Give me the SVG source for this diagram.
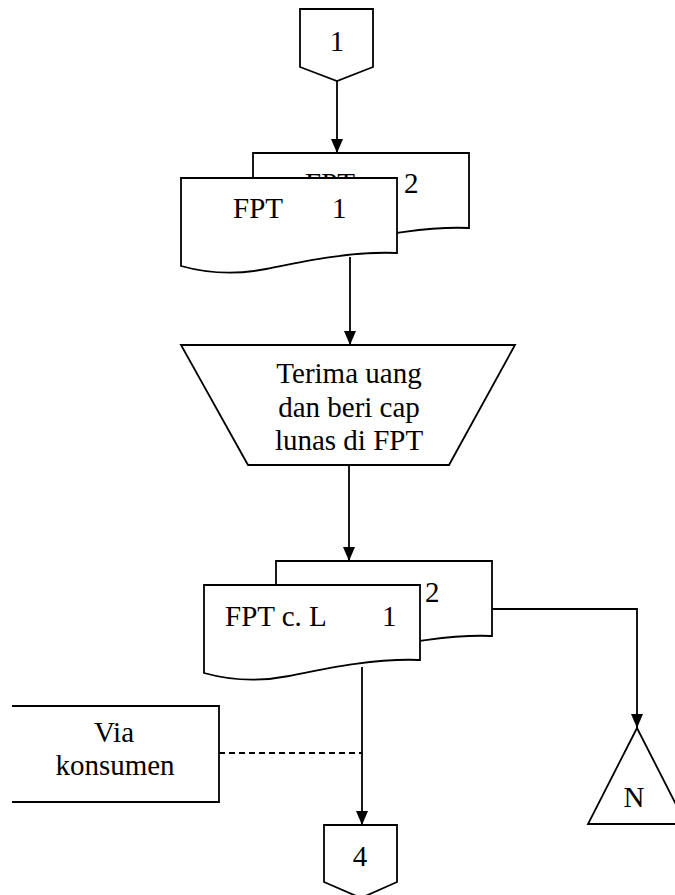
<svg xmlns="http://www.w3.org/2000/svg" width="675" height="895" viewBox="0 0 675 895">
<style>
.s{fill:#fff;stroke:#000;stroke-width:1.8}
.o{fill:none;stroke:#000;stroke-width:1.8}
.t{font-family:"Liberation Serif","Times New Roman",serif;font-size:29px;fill:#000}
.c{text-anchor:middle}
.ln{fill:none;stroke:#000;stroke-width:1.8}
.d{stroke-dasharray:6,4}
</style>
<defs>
<marker id="ah" viewBox="0 0 14 12" refX="14" refY="6" markerWidth="14" markerHeight="12" markerUnits="userSpaceOnUse" orient="auto">
<path d="M0,0 L14,6 L0,12 Z" fill="#000"/>
</marker>
<path id="doc" d="M0,0 H216 V75 C170,73 120,84 85,91 C55,97 25,95 0,88 Z"/>
<clipPath id="cpb"><rect x="253" y="153" width="216" height="24.5"/></clipPath>
</defs>
<rect width="675" height="895" fill="#fff"/>
<g id="conn1">
<path class="s" d="M300,9 H373 V67 L337,81 L300,67 Z"/>
<text class="t c" x="337" y="51">1</text>
</g>
<g id="doc1back">
<use href="#doc" class="s" transform="translate(253,153)"/>
<text class="t" x="305" y="193" clip-path="url(#cpb)">FPT</text>
<text class="t" x="404" y="193">2</text>
</g>
<g id="doc1front">
<use href="#doc" class="s" transform="translate(181,178)"/>
<text class="t" y="218"><tspan x="233">FPT</tspan><tspan x="332">1</tspan></text>
</g>
<g id="process">
<path class="s" d="M181,345 H515 L449,465 H248 Z"/>
<text class="t c" x="349" y="383">Terima uang</text>
<text class="t c" x="349" y="417">dan beri cap</text>
<text class="t c" x="349" y="450">lunas di FPT</text>
</g>
<g id="doc2back">
<use href="#doc" class="s" transform="translate(276,561)"/>
<text class="t" x="425" y="602">2</text>
</g>
<g id="doc2front">
<use href="#doc" class="s" transform="translate(204,585)"/>
<text class="t" y="626"><tspan x="225">FPT c. L</tspan><tspan x="382">1</tspan></text>
</g>
<g id="via">
<path class="o" d="M12,706 H219 V802 H12"/>
<text class="t c" x="114" y="742">Via</text>
<text class="t c" x="115" y="775">konsumen</text>
</g>
<g id="conn4">
<path class="s" d="M324,825 H397 V882 L361,898 L324,882 Z"/>
<text class="t c" x="360" y="866">4</text>
</g>
<g id="offpageN">
<path class="s" d="M637,728 L588,824 L686,824 Z"/>
<text class="t c" x="634" y="807">N</text>
</g>
<g id="connectors">
<path class="ln" d="M337,81 V153" marker-end="url(#ah)"/>
<path class="ln" d="M350,257 V345" marker-end="url(#ah)"/>
<path class="ln" d="M349,465 V561" marker-end="url(#ah)"/>
<path class="ln" d="M362,667 V825" marker-end="url(#ah)"/>
<path class="ln" d="M492,609 H637 V728" marker-end="url(#ah)"/>
<path class="ln d" d="M219,753 H362"/>
</g>
</svg>
